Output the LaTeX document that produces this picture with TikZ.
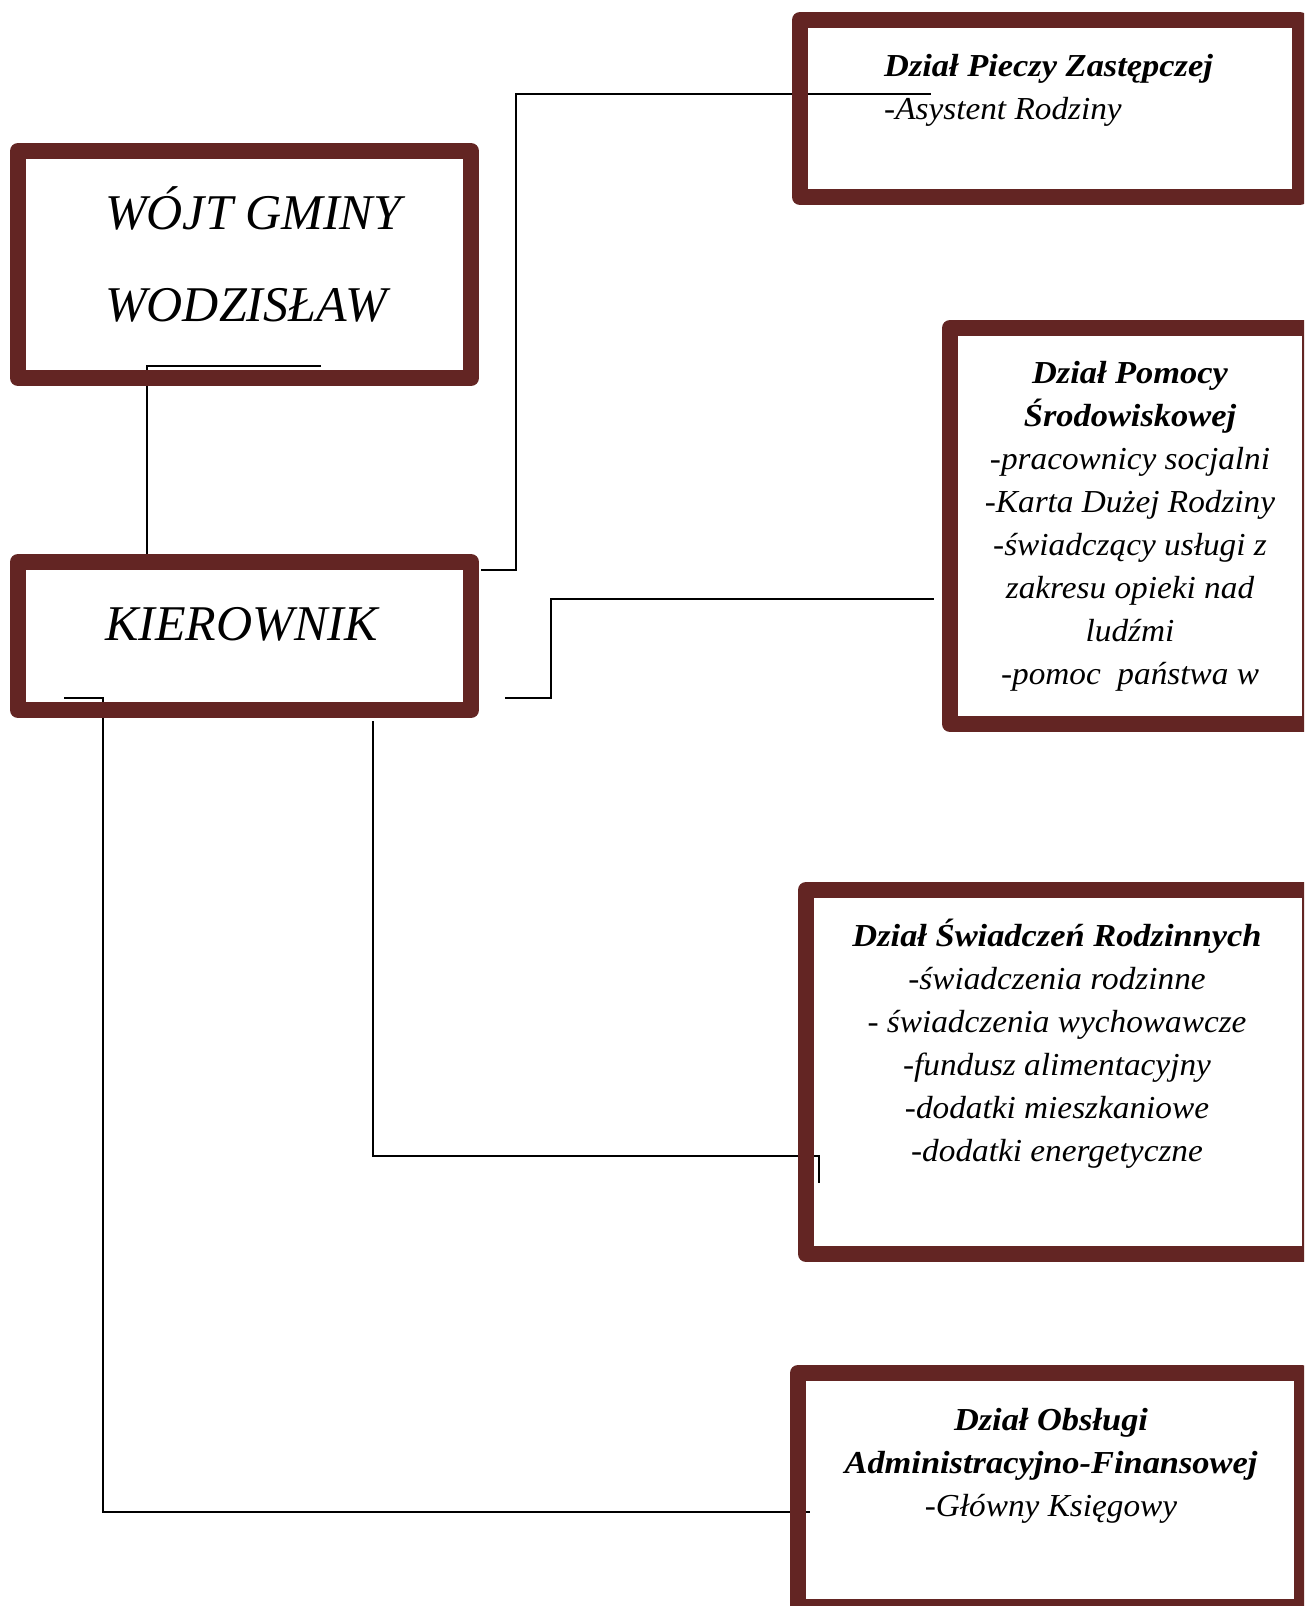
\documentclass[tikz,border=0pt]{standalone}
\usepackage{fontspec}
\setmainfont{Liberation Serif}[ItalicFeatures={FakeStretch=1.04}, BoldItalicFeatures={FakeStretch=1.075}]
\newfontfamily\bigfam{Liberation Serif}
\usetikzlibrary{backgrounds}
\definecolor{maroon}{RGB}{99,37,35}
\newcommand\orgcenter[1]{\vtop{\halign{\hfil##\hfil\cr#1\crcr}}}
\newcommand\orgleft[1]{\vtop{\halign{##\hfil\cr#1\crcr}}}
\tikzset{
  orgbox/.style={draw=maroon, line width=16pt, line join=round, inner sep=0pt, outer sep=0pt, rectangle},
  link/.style={draw=black, line width=1.8pt},
  bigtext/.style={inner sep=0pt, font=\bigfam\fontsize{50}{92}\selectfont\itshape},
  smalltext/.style={inner sep=0pt, font=\fontsize{32}{43}\selectfont\itshape},
}
\newcommand\hd[1]{{\bfseries\itshape #1}}
\begin{document}
\begin{tikzpicture}[x=1pt,y=-1pt]
\path[use as bounding box] (0,0) rectangle (1304,1606);
\clip (0,0) rectangle (1304,1606);
% boxes
\node[orgbox, minimum width=453pt, minimum height=227pt] (wojt) at (244.5,264.5) {};
\node[orgbox, minimum width=453pt, minimum height=148pt] (kier) at (244.5,636) {};
\node[orgbox, minimum width=500pt, minimum height=177pt] (piecz) at (1050,108.5) {};
\node[orgbox, minimum width=360pt, minimum height=396pt] (pomoc) at (1130,526) {};
\node[orgbox, minimum width=504pt, minimum height=364pt] (swiad) at (1058,1072) {};
\node[orgbox, minimum width=504pt, minimum height=234pt] (obsl) at (1050,1490) {};
% texts
\node[bigtext, anchor=base west] (twojt) at (105,229) {\orgleft{WÓJT GMINY\cr WODZISŁAW}};
\node[bigtext, anchor=base west] (tkier) at (105,640) {KIEROWNIK};
\node[smalltext, anchor=base west] (tpiecz) at (884,76) {\orgleft{\hd{Dział Pieczy Zastępczej}\cr -Asystent Rodziny}};
\node[smalltext, anchor=base] (tpomoc) at (1130,383) {\orgcenter{\hd{Dział Pomocy}\cr \hd{Środowiskowej}\cr -pracownicy socjalni\cr -Karta Dużej Rodziny\cr -świadczący usługi z\cr zakresu opieki nad\cr ludźmi\cr -pomoc~~państwa w}};
\node[smalltext, anchor=base] (tswiad) at (1057,946) {\orgcenter{\hd{Dział Świadczeń Rodzinnych}\cr -świadczenia rodzinne\cr - świadczenia wychowawcze\cr -fundusz alimentacyjny\cr -dodatki mieszkaniowe\cr -dodatki energetyczne}};
\node[smalltext, anchor=base] (tobsl) at (1051,1430) {\orgcenter{\hd{Dział Obsługi}\cr \hd{Administracyjno-Finansowej}\cr -Główny Księgowy}};
% connector end points
\coordinate (wS) at (321,366);
\coordinate (kN) at (147,554);
\coordinate (kP) at (481,570);
\coordinate (pW) at (931,94);
\coordinate (kM) at (505,698);
\coordinate (mW) at (934,599);
\coordinate (kS) at (373,721);
\coordinate (sW) at (819,1156);
\coordinate (kO) at (64,698);
\coordinate (oW) at (810,1512);
\begin{scope}[on background layer]
\draw[link] (wS) -| (kN);
\draw[link] (kP) -- ++(35,0) |- (pW);
\draw[link] (kM) -- ++(46,0) |- (mW);
\draw[link] (kS) |- (sW) -- ++(0,27);
\draw[link] (kO) -- ++(39,0) |- (oW);
\end{scope}
\end{tikzpicture}
\end{document}
